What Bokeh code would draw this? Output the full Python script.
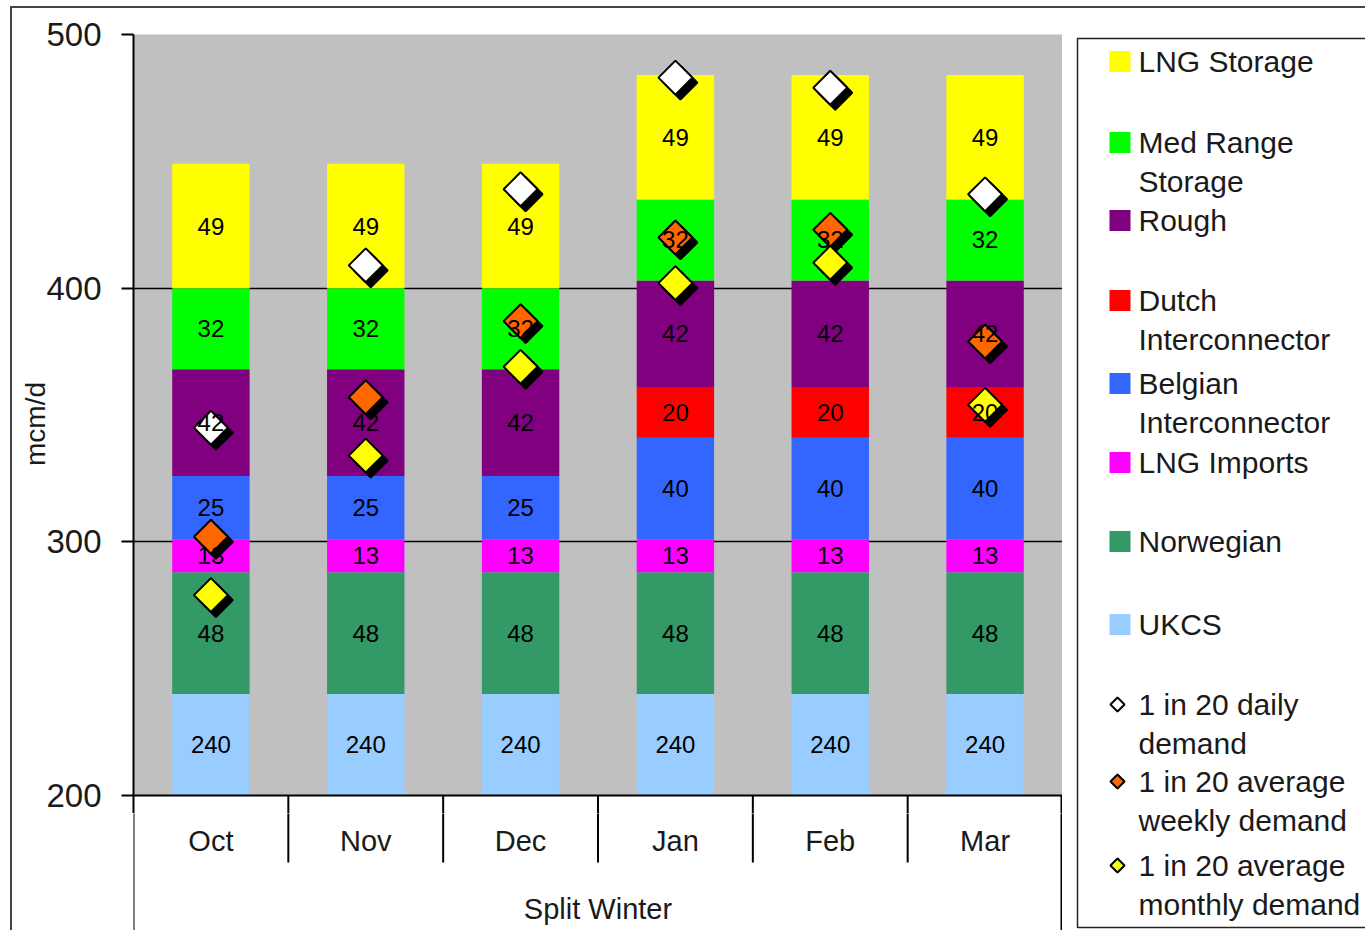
import numpy as np
from bokeh.plotting import figure
from bokeh.models import ColumnDataSource, Range1d, FixedTicker, InlineStyleSheet
from bokeh.layouts import row, column
from bokeh.embed import file_html
from bokeh.resources import INLINE
from bokeh.core.properties import value
from bokeh.transform import dodge

# ---------------- data ----------------
categories = ["Oct", "Nov", "Dec", "Jan", "Feb", "Mar"]
group_label = "Split Winter"
ukcs = [240, 240, 240, 240, 240, 240]
norwegian = [48, 48, 48, 48, 48, 48]
lng_imports = [13, 13, 13, 13, 13, 13]
belgian = [25, 25, 25, 40, 40, 40]
dutch = [0, 0, 0, 20, 20, 20]
rough = [42, 42, 42, 42, 42, 42]
med_range = [32, 32, 32, 32, 32, 32]
lng_storage = [49, 49, 49, 49, 49, 49]
daily_demand = [345, 409, 439, 483, 479, 437]
weekly_demand = [302, 357, 387, 420, 423, 379]
monthly_demand = [279, 334, 369, 402, 410, 354]
y_ticks = [200, 300, 400, 500]
y_label = "mcm/d"

series_names = ["UKCS", "Norwegian", "LNG Imports", "Belgian Interconnector",
                "Dutch Interconnector", "Rough", "Med Range Storage", "LNG Storage"]
series_values = [ukcs, norwegian, lng_imports, belgian, dutch, rough, med_range, lng_storage]
demand_names = ["1 in 20 daily demand", "1 in 20 average weekly demand",
                "1 in 20 average monthly demand"]
demand_values = [daily_demand, weekly_demand, monthly_demand]

# ---------------- styles ----------------
FONT = "Liberation Sans"
TXT = "#1a1a1a"
series_colors = ["#99CCFF", "#339966", "#FF00FF", "#3366FF",
                 "#FF0000", "#800080", "#00FF00", "#FFFF00"]
demand_colors = ["#FFFFFF", "#FF6600", "#FFFF00"]

W_MAIN = 1062
H_TOTAL = 930
PLOT_BOTTOM = 795          # pixel row of the value 200
EXTRA = 18                 # room below 200 so its tick label is not cut
H_MAIN = PLOT_BOTTOM + EXTRA
H_CAT = H_TOTAL - H_MAIN
FRAME_L, FRAME_T = 133, 34
frame_w = W_MAIN - FRAME_L
Y_MIN, Y_TOP = 200.0, 500.0
PX_PER_Y = (PLOT_BOTTOM - FRAME_T) / (Y_TOP - Y_MIN)
PX_PER_X = frame_w / 6.0
y_start = Y_MIN - EXTRA / PX_PER_Y

keys = ["s%d" % i for i in range(len(series_names))]
data = {"x": [i + 0.5 for i in range(len(categories))], "cat": categories}
for k, v in zip(keys, series_values):
    data[k] = v
for j, v in enumerate(demand_values):
    data["d%d" % j] = v
src = ColumnDataSource(data)

xr = Range1d(0, 6)
p = figure(width=W_MAIN, height=H_MAIN, x_range=xr, y_range=Range1d(y_start, Y_TOP),
           toolbar_location=None, output_backend="svg",
           min_border_left=FRAME_L, min_border_right=0, min_border_top=FRAME_T,
           min_border_bottom=0, x_axis_type=None)
p.background_fill_color = "#C0C0C0"
p.border_fill_color = "white"
p.outline_line_color = None

# y axis
ax = p.yaxis[0]
ax.ticker = FixedTicker(ticks=y_ticks)
ax.minor_tick_line_color = None
ax.major_tick_out = 12
ax.major_tick_in = 0
ax.major_tick_line_width = 2
ax.major_tick_line_color = "black"
ax.axis_line_width = 2
ax.axis_line_color = "black"
ax.major_label_text_font = FONT
ax.major_label_text_font_size = "33px"
ax.major_label_text_color = TXT
ax.major_label_standoff = 20
ax.axis_label = y_label
ax.axis_label_text_font = FONT
ax.axis_label_text_font_size = "28px"
ax.axis_label_text_font_style = "normal"
ax.axis_label_text_color = TXT
ax.axis_label_standoff = -8

p.xgrid.visible = False
p.ygrid.ticker = FixedTicker(ticks=[300, 400, 500])
p.ygrid.grid_line_color = "black"
p.ygrid.grid_line_width = 1.3

# stacked bars
p.vbar_stack(keys, x="x", width=0.5, color=series_colors, line_color=None, source=src)

# white category strip below the value area + its lines
p.quad(left=-1, right=7, bottom=y_start - 10, top=Y_MIN, fill_color="white", line_color=None)
px1 = 1.0 / PX_PER_X
low_y = y_start - 5
p.segment(x0=[0], y0=[Y_MIN], x1=[6], y1=[Y_MIN], line_color="black", line_width=2)
p.segment(x0=[1, 2, 3, 4, 5, 6 - px1], y0=[Y_MIN] * 6, x1=[1, 2, 3, 4, 5, 6 - px1],
          y1=[low_y] * 6, line_color="black", line_width=2)

# demand markers with shadow
SH = 5.0
for j, c in enumerate(demand_colors):
    p.scatter(x=dodge("x", SH / PX_PER_X, range=p.x_range),
              y=dodge("d%d" % j, -SH / PX_PER_Y, range=p.y_range),
              source=src, marker="square", angle=np.pi / 4, size=24,
              fill_color="black", line_color="black", line_width=2)
    p.scatter(x="x", y="d%d" % j, source=src, marker="square", angle=np.pi / 4, size=24,
              fill_color=c, line_color="black", line_width=2)

# bar value labels (drawn on top, like the original)
lx, ly, lt = [], [], []
cum = np.zeros(len(categories))
for v in series_values:
    v = np.array(v, dtype=float)
    top = cum + v
    for i in range(len(categories)):
        if v[i] > 0:
            lo = max(cum[i], Y_MIN)
            lx.append(i + 0.5)
            ly.append((lo + top[i]) / 2)
            lt.append("%d" % v[i])
    cum = top
p.text(x=lx, y=ly, text=lt, text_align="center", text_baseline="middle",
       text_font=value(FONT), text_font_size=value("24px"), text_color="black")

# ---------------- category (multi-level) axis panel, page-pixel y ----------------
low = figure(width=W_MAIN, height=H_CAT, x_range=xr, y_range=Range1d(H_TOTAL, H_MAIN),
             toolbar_location=None, output_backend="svg",
             min_border_left=FRAME_L, min_border_right=0, min_border_top=0, min_border_bottom=0,
             x_axis_type=None, y_axis_type=None)
low.grid.visible = False
low.outline_line_color = None
low.background_fill_color = "white"
low.border_fill_color = "white"
low.segment(x0=[1, 2, 3, 4, 5], y0=[H_MAIN - 2] * 5, x1=[1, 2, 3, 4, 5], y1=[862] * 5,
            line_color="black", line_width=2)
low.segment(x0=[0, 6 - px1], y0=[H_MAIN - 2] * 2, x1=[0, 6 - px1], y1=[H_TOTAL + 2] * 2,
            line_color="black", line_width=2)
low.text(x="x", y=840, text="cat", source=src, text_align="center", text_baseline="middle",
         text_font=value(FONT), text_font_size=value("29px"), text_color=TXT)
low.text(x=[3], y=[908], text=[group_label], text_align="center", text_baseline="middle",
         text_font=value(FONT), text_font_size=value("29px"), text_color=TXT)

# ---------------- legend (separate panel, page-pixel coordinates) ----------------
W_LEG = 303
X0 = W_MAIN
leg = figure(width=W_LEG, height=H_TOTAL, x_range=Range1d(X0, X0 + W_LEG),
             y_range=Range1d(H_TOTAL, FRAME_T),
             toolbar_location=None, output_backend="svg",
             min_border_left=0, min_border_right=0, min_border_top=FRAME_T, min_border_bottom=0,
             x_axis_type=None, y_axis_type=None)
leg.grid.visible = False
leg.outline_line_color = None
leg.background_fill_color = "white"
leg.border_fill_color = "white"
leg.quad(left=[1077], right=[1420], top=[38], bottom=[927], fill_color=None,
         line_color="#222", line_width=1.5)

legend_order = [7, 6, 5, 4, 3, 2, 1, 0]
legend_lines = {
    "LNG Storage": ["LNG Storage"],
    "Med Range Storage": ["Med Range", "Storage"],
    "Rough": ["Rough"],
    "Dutch Interconnector": ["Dutch", "Interconnector"],
    "Belgian Interconnector": ["Belgian", "Interconnector"],
    "LNG Imports": ["LNG Imports"],
    "Norwegian": ["Norwegian"],
    "UKCS": ["UKCS"],
    "1 in 20 daily demand": ["1 in 20 daily", "demand"],
    "1 in 20 average weekly demand": ["1 in 20 average", "weekly demand"],
    "1 in 20 average monthly demand": ["1 in 20 average", "monthly demand"],
}
entry_y = [61, 142, 220, 300, 383, 462, 541, 624, 704, 781, 865]
line_gap = 39

tx, ty, tt = [], [], []
sw_y, sw_c = [], []
for n, idx in enumerate(legend_order):
    name = series_names[idx]
    sw_y.append(entry_y[n])
    sw_c.append(series_colors[idx])
    for k, line in enumerate(legend_lines[name]):
        tx.append(1138)
        ty.append(entry_y[n] + k * line_gap)
        tt.append(line)
leg.rect(x=[1119.5] * len(sw_y), y=sw_y, width=21, height=21, fill_color=sw_c, line_color=None)

dm_y = []
for j, name in enumerate(demand_names):
    n = len(legend_order) + j
    dm_y.append(entry_y[n])
    for k, line in enumerate(legend_lines[name]):
        tx.append(1138)
        ty.append(entry_y[n] + k * line_gap)
        tt.append(line)
leg.scatter(x=[1117] * 3, y=dm_y, marker="square", angle=np.pi / 4, size=10,
            fill_color=demand_colors, line_color="black", line_width=2)
leg.text(x=tx, y=ty, text=tt, text_align="left", text_baseline="middle",
         text_font=value(FONT), text_font_size=value("30px"), text_color=TXT)

# thin outer chart border (left and top edges visible in the original)
border_css = InlineStyleSheet(css="""
:host { position: relative; }
:host::after {
  content: ""; position: absolute; left: 10px; top: 6px;
  width: calc(100% - 10px); height: calc(100% - 6px);
  border-left: 2px solid #444; border-top: 2px solid #444;
  box-sizing: border-box; pointer-events: none; z-index: 10;
}
""")
layout = row(column(p, low), leg, stylesheets=[border_css])
open("out.html", "w").write(file_html(layout, INLINE))
